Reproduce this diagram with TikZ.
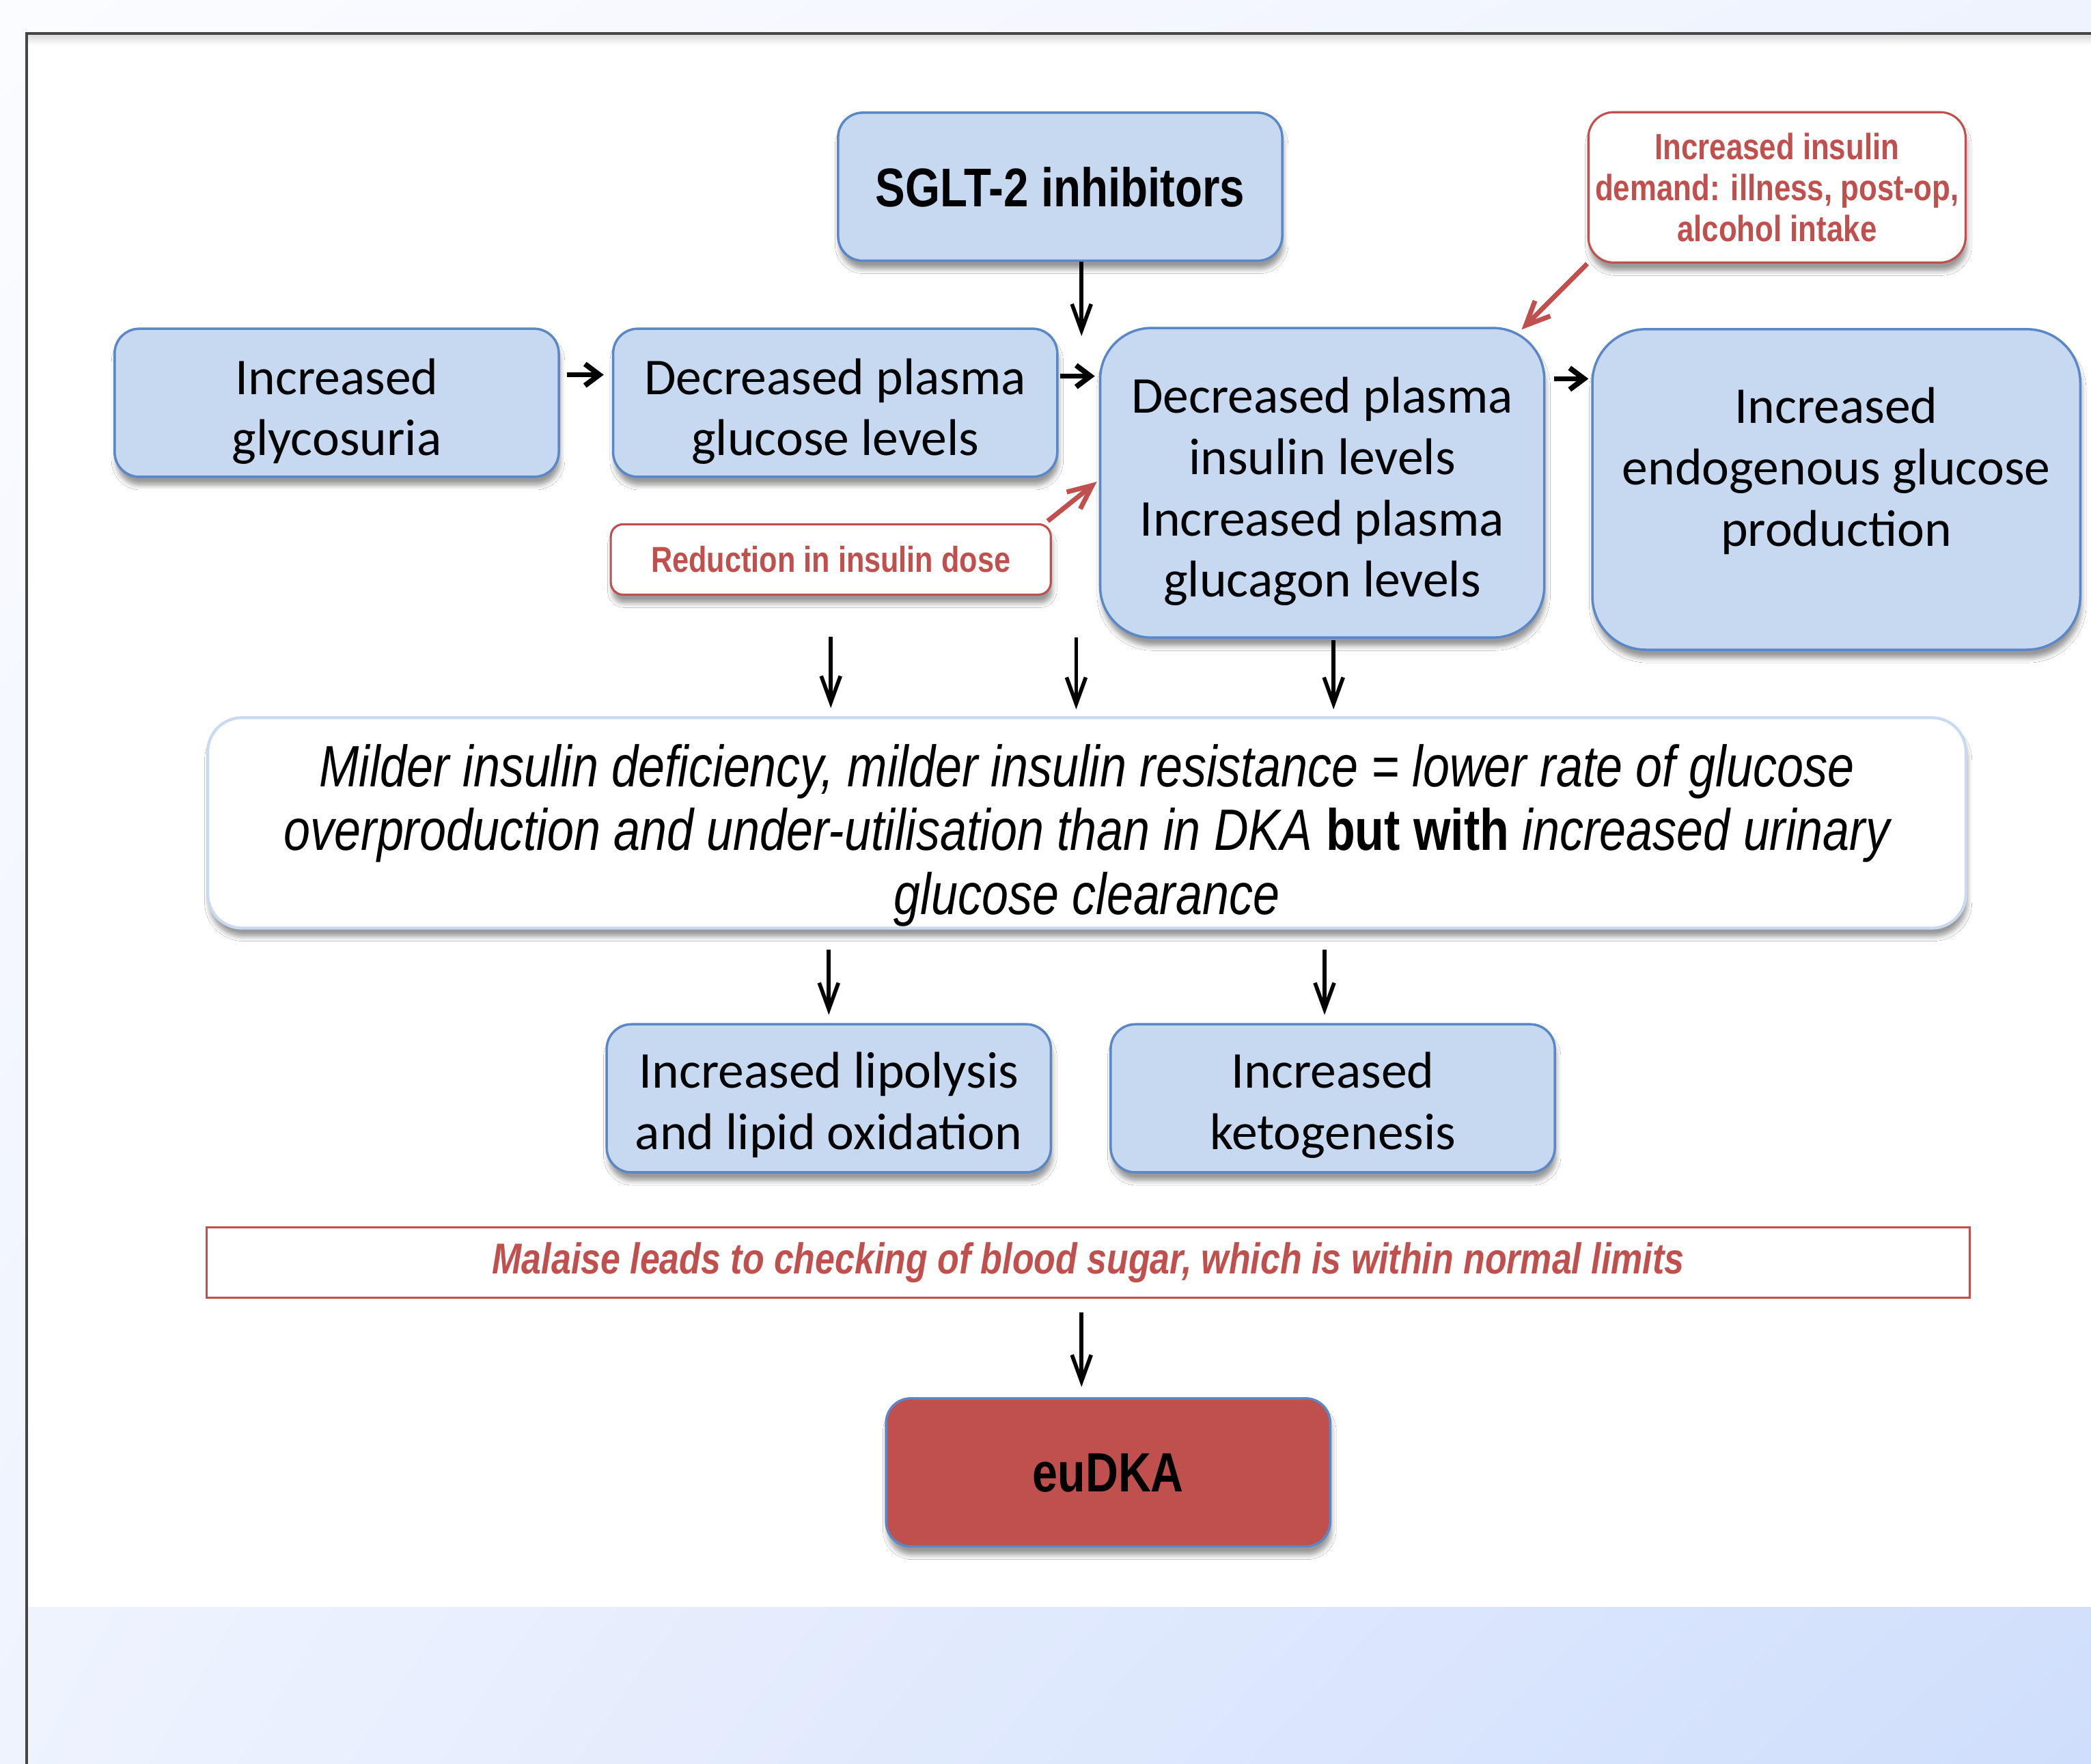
\documentclass[tikz,border=0pt]{standalone}
\usepackage{fontspec}
\setmainfont{Carlito}
\newfontfamily\condfont[FakeStretch=0.82]{Liberation Sans}
\usetikzlibrary{arrows.meta,positioning,shadows.blur,shadings}

\definecolor{boxfill}{HTML}{C6D9F1}
\definecolor{boxline}{HTML}{5A88C6}
\definecolor{alertred}{HTML}{C0504D}
\definecolor{softline}{HTML}{C9D9F0}
\definecolor{framegray}{HTML}{454545}
\definecolor{bgA}{HTML}{FBFCFF}
\definecolor{bgB}{HTML}{EEF3FE}
\definecolor{bgC}{HTML}{CFDEFC}

% invisible strut that pushes the first line down a little
\newcommand\padtop[1]{\rule{0pt}{#1}}

\begin{document}
\begin{tikzpicture}[
  x=0.01952cm, y=-0.01952cm,
  line/.style={-{Straight Barb[length=11pt,width=8pt]},line width=1.6pt,draw=black},
  hline/.style={-{Straight Barb[length=6pt,width=9pt]},line width=2.2pt,draw=black},
  rline/.style={-{Straight Barb[length=10pt,width=9pt]},line width=2pt,draw=alertred},
  soft/.style={blur shadow={shadow xshift=0.6pt,shadow yshift=-3.5pt,shadow blur steps=6,shadow opacity=40}},
  box/.style={rectangle,rounded corners=0.36cm,draw=boxline,line width=1pt,fill=boxfill,soft,
    minimum width=6.5cm,minimum height=2.167cm,inner sep=0pt,align=center,
    font=\fontsize{21.5}{25.5}\selectfont,text depth=0pt},
  boxtall/.style={box,rounded corners=0.75cm,minimum height=4.53cm},
  boxend/.style={box,rounded corners=0.78cm,minimum width=7.14cm,minimum height=4.69cm},
  note/.style={rectangle,rounded corners=0.37cm,draw=alertred,line width=0.9pt,fill=white,soft,
    minimum width=5.52cm,minimum height=2.2cm,inner sep=0pt,align=center,text=alertred,
    font=\condfont\bfseries\fontsize{15.2}{17}\selectfont},
  notewide/.style={note,rounded corners=0.18cm,minimum width=6.44cm,minimum height=1.03cm,
    font=\condfont\bfseries\fontsize{15}{17}\selectfont},
  summary/.style={rectangle,rounded corners=0.5cm,draw=softline,line width=1.2pt,fill=white,soft,
    minimum width=25.73cm,minimum height=3.08cm,inner sep=0pt,align=center,
    font=\condfont\itshape\fontsize{24.3}{26.5}\selectfont,text depth=0pt},
  alert/.style={rectangle,draw=alertred,line width=0.9pt,fill=white,
    minimum width=25.8cm,minimum height=1.03cm,inner sep=0pt,text=alertred,
    font=\condfont\bfseries\itshape\fontsize{18}{20}\selectfont},
  outcome/.style={box,fill=alertred,draw=boxline,
    font=\condfont\bfseries\fontsize{23}{26}\selectfont}
]
\useasboundingbox (0,0) rectangle (1568,1322.6);

% page and frame
\shade[upper left=bgA,upper right=bgB,lower left=bgB,lower right=bgC] (0,0) rectangle (1568,1322.6);
\fill[white] (20,25) rectangle (1568,1205);
\shade[top color=black!14,bottom color=white] (21,26) rectangle (1568,34);
\draw[framegray,line width=1.3pt] (20,1322.6) -- (20,25) -- (1568,25);

% top row
\node[box,font=\condfont\bfseries\fontsize{22.7}{26}\selectfont] (sglt) at (795,140) {SGLT-2 inhibitors};
\node[box] (glyco) at (252.5,302) {\padtop{18.5pt}Increased\\glycosuria};
\node[box,right=0.76cm of glyco] (gluc) {\padtop{18.5pt}Decreased plasma\\glucose levels};
\node[boxtall] (mid) at (991.5,362) {\padtop{18.5pt}Decreased plasma\\insulin levels\\Increased plasma\\glucagon levels};
\node[boxend] (endo) at (1377,367) {\padtop{17pt}Increased\\endogenous glucose\\production\\[-4.5pt]\mbox{}};

% red notes
\node[note] (demand) at (1332.5,140.5) {Increased insulin\\demand: illness, post-op,\\alcohol intake};
\node[notewide] (dose) at (623,419.5) {Reduction in insulin dose};

% summary and outcomes
\node[summary] (big) at (815,617) {\padtop{23pt}Milder insulin deficiency, milder insulin resistance = lower rate of glucose\\
  overproduction and under-utilisation than in DKA {\upshape\bfseries but with} increased urinary\\
  glucose clearance};
\node[box] (lipo) at (621.5,823.5) {\padtop{17pt}Increased lipolysis\\and lipid oxidation};
\node[box,right=0.84cm of lipo] (keto) {\padtop{17pt}Increased\\ketogenesis};
\node[alert] (malaise) at (816,946.5) {Malaise leads to checking of blood sugar, which is within normal limits};
\node[outcome] (dka) at (831,1104) {euDKA};

% free ends of the arrows
\coordinate (sgltend) at (811,252);
\coordinate (ga) at (791,282);
\coordinate (gb) at (419,281);
\coordinate (mc) at (1158,284);
\coordinate (c807) at (807,478);
\coordinate (c1000) at (1000,480);
\coordinate (c811) at (811,984);

% black arrows
\draw[line] (sglt.south -| sgltend) -- (sgltend);
\draw[hline,shorten <=0.12cm,shorten >=0.12cm] (gb) -- (gb -| gluc.west);
\draw[hline,shorten <=0.08cm,shorten >=0.06cm] (ga) -- (ga -| mid.west);
\draw[hline,shorten <=0.14cm,shorten >=0.04cm] (mc) -- (mc -| endo.west);
\draw[line,shorten <=0.6cm,shorten >=0.12cm] (dose.south) -- (dose.south |- big.north);
\draw[line,shorten >=0.1cm] (c807) -- (c807 |- big.north);
\draw[line,shorten >=0.1cm] (c1000) -- (c1000 |- big.north);
\draw[line,shorten <=0.29cm,shorten >=0.12cm] (lipo.north |- big.south) -- (lipo.north);
\draw[line,shorten <=0.29cm,shorten >=0.12cm] ([xshift=-0.12cm]keto.north |- big.south) -- ([xshift=-0.12cm]keto.north);
\draw[line,shorten >=0.15cm] (c811) -- (c811 |- dka.north);

% red arrows
\draw[rline] (demand.south west) -- ([xshift=-0.35cm,yshift=-0.04cm]mid.north east);
\draw[rline,shorten <=0.05cm,shorten >=0.04cm] ([xshift=-0.1cm]dose.north east) -- ([yshift=0.04cm]mid.west);

\end{tikzpicture}
\end{document}
